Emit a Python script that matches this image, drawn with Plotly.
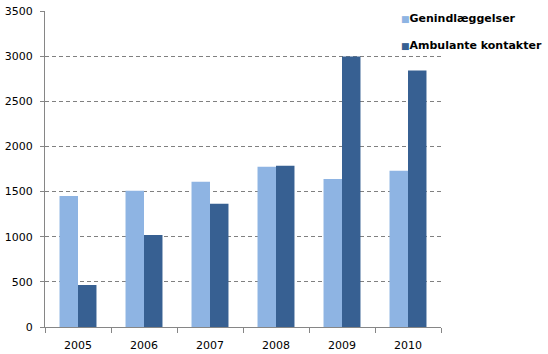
import plotly.graph_objects as go

years = ["2005", "2006", "2007", "2008", "2009", "2010"]
genindlaeggelser = [1450, 1510, 1610, 1775, 1640, 1730]
ambulante = [465, 1020, 1365, 1785, 2995, 2840]
y_ticks = [0, 500, 1000, 1500, 2000, 2500, 3000, 3500]
series_names = ["Genindlæggelser", "Ambulante kontakter"]
colors = ["#8EB4E3", "#376092"]

fig = go.Figure()
fig.add_trace(go.Bar(x=years, y=genindlaeggelser, name=series_names[0],
                     marker=dict(color=colors[0], line=dict(width=0)), showlegend=False))
fig.add_trace(go.Bar(x=years, y=ambulante, name=series_names[1],
                     marker=dict(color=colors[1], line=dict(width=0)), showlegend=False))

# legend drawn as text annotations
legend_y = [0.975, 0.892]
for nm, c, ly in zip(series_names, colors, legend_y):
    fig.add_annotation(
        xref="paper", yref="paper", x=(399 - 45) / 396, y=ly,
        xanchor="left", yanchor="middle", showarrow=False,
        text=f"<span style='color:{c};font-size:9px'>■</span><b>{nm}</b>",
        font=dict(family="DejaVu Sans", size=11, color="black"),
    )

fig.update_layout(
    width=548, height=354,
    margin=dict(l=45, r=107, t=11, b=27),
    paper_bgcolor="white", plot_bgcolor="white",
    barmode="group", bargap=0.44, bargroupgap=0,
    font=dict(family="DejaVu Sans", size=11, color="black"),
    showlegend=False,
    xaxis=dict(showline=True, linecolor="#868686", linewidth=1, automargin=False,
               ticks="outside", tickson="boundaries", ticklen=5, tickcolor="#868686",
               showgrid=False, tickfont=dict(size=11), ticklabelstandoff=8),
    yaxis=dict(range=[0, 3500], tickvals=y_ticks, showline=True, linecolor="#868686",
               linewidth=1, ticks="outside", ticklen=4, tickcolor="#868686", automargin=False,
               showgrid=True, gridcolor="#808080", griddash="4px,3px", gridwidth=1,
               zeroline=False, tickfont=dict(size=11), ticklabelstandoff=5),
)
fig.write_html("out.html")
